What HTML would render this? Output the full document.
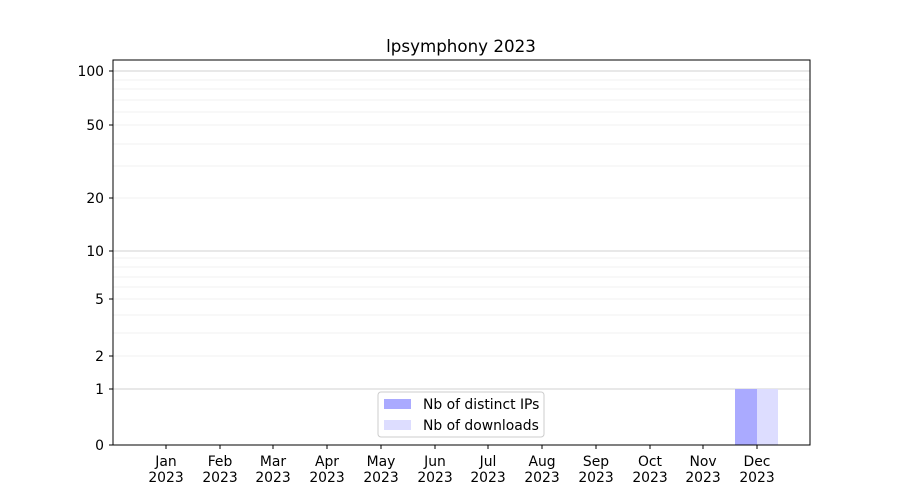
<!DOCTYPE html>
<html><head><meta charset="utf-8"><style>body{margin:0;background:#fff}svg{display:block;font-family:"DejaVu Sans","Liberation Sans",sans-serif}</style></head><body>
<svg width="900" height="500" viewBox="0 0 900 500" xmlns="http://www.w3.org/2000/svg">
<rect width="900" height="500" fill="#fff"/>
<g stroke="#ebebeb" stroke-width="0.8">
<line x1="113" x2="810" y1="356" y2="356"/><line x1="113" x2="810" y1="333" y2="333"/><line x1="113" x2="810" y1="315" y2="315"/><line x1="113" x2="810" y1="299" y2="299"/><line x1="113" x2="810" y1="287" y2="287"/><line x1="113" x2="810" y1="277" y2="277"/><line x1="113" x2="810" y1="267" y2="267"/><line x1="113" x2="810" y1="258" y2="258"/>
<line x1="113" x2="810" y1="198" y2="198"/><line x1="113" x2="810" y1="166" y2="166"/><line x1="113" x2="810" y1="144" y2="144"/><line x1="113" x2="810" y1="125" y2="125"/><line x1="113" x2="810" y1="112" y2="112"/><line x1="113" x2="810" y1="100" y2="100"/><line x1="113" x2="810" y1="89" y2="89"/><line x1="113" x2="810" y1="80" y2="80"/>
</g>
<g stroke="#d0d0d0" stroke-width="1"><line x1="113" x2="810" y1="389" y2="389"/><line x1="113" x2="810" y1="251" y2="251"/><line x1="113" x2="810" y1="71" y2="71"/></g>
<rect x="735" y="389" width="22" height="56" fill="#aaaaff"/>
<rect x="757" y="389" width="21" height="56" fill="#ddddff"/>
<rect x="113" y="60" width="697" height="385" fill="none" stroke="#000" stroke-width="1"/>
<g stroke="#000"><line x1="109" x2="113" y1="445" y2="445"/><line x1="109" x2="113" y1="389" y2="389"/><line x1="109" x2="113" y1="356" y2="356"/><line x1="109" x2="113" y1="299" y2="299"/><line x1="109" x2="113" y1="251" y2="251"/><line x1="109" x2="113" y1="198" y2="198"/><line x1="109" x2="113" y1="125" y2="125"/><line x1="109" x2="113" y1="71" y2="71"/></g>
<g font-size="13.9" text-anchor="end" fill="#000"><text x="104" y="450">0</text><text x="104" y="394">1</text><text x="104" y="361">2</text><text x="104" y="304">5</text><text x="104" y="256">10</text><text x="104" y="203">20</text><text x="104" y="130">50</text><text x="104" y="76">100</text></g>
<g font-size="13.9" text-anchor="middle" fill="#000">
<text x="166" y="466">Jan</text><text x="166" y="482">2023</text>
<text x="220" y="466">Feb</text><text x="220" y="482">2023</text>
<text x="273" y="466">Mar</text><text x="273" y="482">2023</text>
<text x="327" y="466">Apr</text><text x="327" y="482">2023</text>
<text x="381" y="466">May</text><text x="381" y="482">2023</text>
<text x="435" y="466">Jun</text><text x="435" y="482">2023</text>
<text x="488" y="466">Jul</text><text x="488" y="482">2023</text>
<text x="542" y="466">Aug</text><text x="542" y="482">2023</text>
<text x="596" y="466">Sep</text><text x="596" y="482">2023</text>
<text x="650" y="466">Oct</text><text x="650" y="482">2023</text>
<text x="703" y="466">Nov</text><text x="703" y="482">2023</text>
<text x="757" y="466">Dec</text><text x="757" y="482">2023</text>
</g>
<g stroke="#000"><line x1="166" x2="166" y1="445" y2="449"/><line x1="220" x2="220" y1="445" y2="449"/><line x1="273" x2="273" y1="445" y2="449"/><line x1="327" x2="327" y1="445" y2="449"/><line x1="381" x2="381" y1="445" y2="449"/><line x1="435" x2="435" y1="445" y2="449"/><line x1="488" x2="488" y1="445" y2="449"/><line x1="542" x2="542" y1="445" y2="449"/><line x1="596" x2="596" y1="445" y2="449"/><line x1="650" x2="650" y1="445" y2="449"/><line x1="703" x2="703" y1="445" y2="449"/><line x1="757" x2="757" y1="445" y2="449"/></g>
<text x="461" y="52" font-size="16.7" text-anchor="middle">lpsymphony 2023</text>
<rect x="378" y="392" width="166" height="45" rx="3" fill="#fff" fill-opacity="0.8" stroke="#ccc"/>
<rect x="384" y="399" width="27" height="10" fill="#aaaaff"/>
<rect x="384" y="420" width="27" height="10" fill="#ddddff"/>
<g font-size="13.9"><text x="423" y="409">Nb of distinct IPs</text><text x="423" y="430">Nb of downloads</text></g>
</svg>
</body></html>
